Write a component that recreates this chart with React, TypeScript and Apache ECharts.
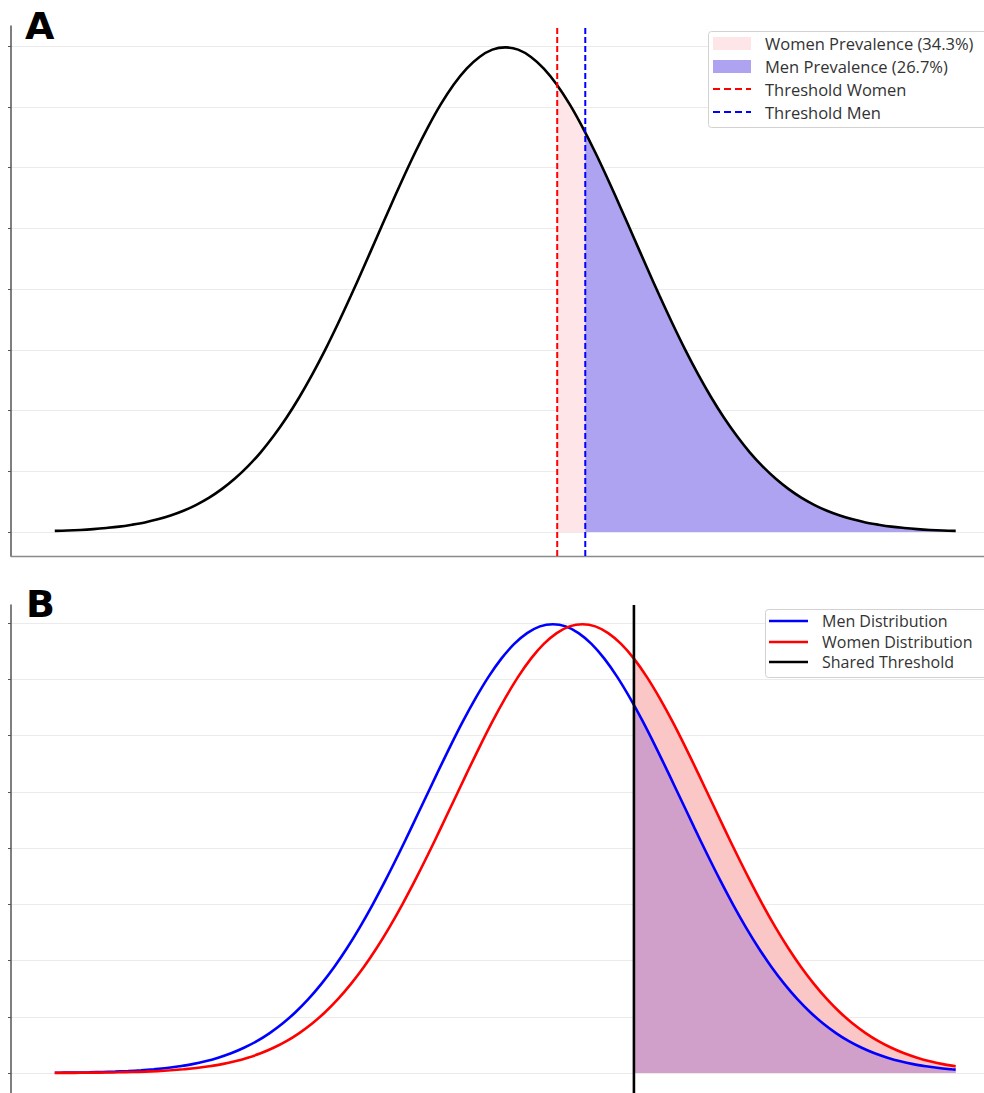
import React, { useEffect, useRef } from "react";
import * as echarts from "echarts";

// ---------- data ----------
// x positions (shared by panel A curve and the women curve of panel B)
const xValues = [
  -3.5, -3.4, -3.3, -3.2, -3.1, -3, -2.9, -2.8, -2.7, -2.6, -2.5, -2.4, -2.3, -2.2, -2.1, -2, -1.9,
  -1.8, -1.7, -1.6, -1.5, -1.4, -1.3, -1.2, -1.1, -1, -0.9, -0.8, -0.7, -0.6, -0.5, -0.4, -0.3,
  -0.2, -0.1, 0, 0.1, 0.2, 0.3, 0.4, 0.5, 0.6, 0.7, 0.8, 0.9, 1, 1.1, 1.2, 1.3, 1.4, 1.5, 1.6, 1.7,
  1.8, 1.9, 2, 2.1, 2.2, 2.3, 2.4, 2.5, 2.6, 2.7, 2.8, 2.9, 3, 3.1, 3.2, 3.3, 3.4, 3.5,
];

// Panel A: single distribution
const densityA = [
  0.0009, 0.0012, 0.0017, 0.0024, 0.0033, 0.0044, 0.006, 0.0079, 0.0104, 0.0136, 0.0175, 0.0224,
  0.0283, 0.0355, 0.044, 0.054, 0.0656, 0.079, 0.094, 0.1109, 0.1295, 0.1497, 0.1714, 0.1942,
  0.2179, 0.242, 0.2661, 0.2897, 0.3123, 0.3332, 0.3521, 0.3683, 0.3814, 0.391, 0.397, 0.3989,
  0.397, 0.391, 0.3814, 0.3683, 0.3521, 0.3332, 0.3123, 0.2897, 0.2661, 0.242, 0.2179, 0.1942,
  0.1714, 0.1497, 0.1295, 0.1109, 0.094, 0.079, 0.0656, 0.054, 0.044, 0.0355, 0.0283, 0.0224,
  0.0175, 0.0136, 0.0104, 0.0079, 0.006, 0.0044, 0.0033, 0.0024, 0.0017, 0.0012, 0.0009,
];
const thresholdWomenA = 0.404;
const thresholdMenA = 0.622;
const densityAtWomenA = 0.3677;
const densityAtMenA = 0.3289;

// Panel B: women distribution (on xValues)
const womenB = [
  0.0001, 0.0001, 0.0002, 0.0003, 0.0004, 0.0006, 0.0009, 0.0012, 0.0017, 0.0024, 0.0033, 0.0044,
  0.006, 0.0079, 0.0104, 0.0136, 0.0175, 0.0224, 0.0283, 0.0355, 0.044, 0.054, 0.0656, 0.079,
  0.094, 0.1109, 0.1295, 0.1497, 0.1714, 0.1942, 0.2179, 0.242, 0.2661, 0.2897, 0.3123, 0.3332,
  0.3521, 0.3683, 0.3814, 0.391, 0.397, 0.3989, 0.397, 0.391, 0.3814, 0.3683, 0.3521, 0.3332,
  0.3123, 0.2897, 0.2661, 0.242, 0.2179, 0.1942, 0.1714, 0.1497, 0.1295, 0.1109, 0.094, 0.079,
  0.0656, 0.054, 0.044, 0.0355, 0.0283, 0.0224, 0.0175, 0.0136, 0.0104, 0.0079, 0.006,
];

// Panel B: men distribution (its own x positions)
const menX = [
  -3.5, -3.43, -3.33, -3.23, -3.13, -3.03, -2.93, -2.83, -2.73, -2.63, -2.53, -2.43, -2.33, -2.23,
  -2.13, -2.03, -1.93, -1.83, -1.73, -1.63, -1.53, -1.43, -1.33, -1.23, -1.13, -1.03, -0.93, -0.83,
  -0.73, -0.63, -0.53, -0.43, -0.33, -0.23, -0.13, -0.03, 0.07, 0.17, 0.27, 0.37, 0.47, 0.57, 0.67,
  0.77, 0.87, 0.97, 1.07, 1.17, 1.27, 1.37, 1.47, 1.57, 1.67, 1.77, 1.87, 1.97, 2.07, 2.17, 2.27,
  2.37, 2.47, 2.57, 2.67, 2.77, 2.87, 2.97, 3.07, 3.17, 3.27, 3.37, 3.47, 3.5,
];
const menB = [
  0.0002, 0.0003, 0.0004, 0.0006, 0.0009, 0.0012, 0.0017, 0.0024, 0.0033, 0.0044, 0.006, 0.0079,
  0.0104, 0.0136, 0.0175, 0.0224, 0.0283, 0.0355, 0.044, 0.054, 0.0656, 0.079, 0.094, 0.1109,
  0.1295, 0.1497, 0.1714, 0.1942, 0.2179, 0.242, 0.2661, 0.2897, 0.3123, 0.3332, 0.3521, 0.3683,
  0.3814, 0.391, 0.397, 0.3989, 0.397, 0.391, 0.3814, 0.3683, 0.3521, 0.3332, 0.3123, 0.2897,
  0.2661, 0.242, 0.2179, 0.1942, 0.1714, 0.1497, 0.1295, 0.1109, 0.094, 0.079, 0.0656, 0.054,
  0.044, 0.0355, 0.0283, 0.0224, 0.0175, 0.0136, 0.0104, 0.0079, 0.006, 0.0044, 0.0033, 0.003,
];
const sharedThresholdB = 1.0;
const menAtThresholdB = 0.3271;

const legendA = ["Women Prevalence (34.3%)", "Men Prevalence (26.7%)", "Threshold Women", "Threshold Men"];
const legendB = ["Men Distribution", "Women Distribution", "Shared Threshold"];

// ---------- layout constants ----------
const X_MIN = -3.84;
const X_MAX = 3.72;
const YA_MIN = -0.01975;
const YA_MAX = 0.41646;
const YB_MIN = -0.01778;
const YB_MAX = 0.416;
const SMOOTH = 0.35;

const LEGEND_FONT = '"Open Sans", sans-serif';

function pairs(xs: number[], ys: number[]) {
  return xs.map((x, i) => [x, ys[i]]);
}

function App() {
  const ref = useRef<HTMLDivElement>(null);

  useEffect(() => {
    if (!ref.current) return;
    const chart = echarts.init(ref.current, undefined, { renderer: "svg" });

    const curveA = pairs(xValues, densityA);
    const pinkFillA = [
      [thresholdWomenA, densityAtWomenA],
      ...curveA.filter((p) => p[0] > thresholdWomenA && p[0] < thresholdMenA),
      [thresholdMenA, densityAtMenA],
    ];
    const blueFillA = [[thresholdMenA, densityAtMenA], ...curveA.filter((p) => p[0] > thresholdMenA)];

    const menCurve = pairs(menX, menB);
    const womenCurve = pairs(xValues, womenB);
    const menFill = [[sharedThresholdB, menAtThresholdB], ...menCurve.filter((p) => p[0] > sharedThresholdB)];
    const womenFill = womenCurve.filter((p) => p[0] >= sharedThresholdB);

    const hiddenX = (gridIndex: number) => ({
      gridIndex,
      type: "value",
      min: X_MIN,
      max: X_MAX,
      show: false,
    });

    const lineYAxis = (gridIndex: number) => ({
      gridIndex,
      type: "value",
      min: 0,
      max: 0.4,
      interval: 0.05,
      axisLine: { show: false, onZero: false },
      axisTick: { show: true, inside: false, length: 3, lineStyle: { color: "#555", width: 1 } },
      axisLabel: { show: false },
      splitLine: { show: true, lineStyle: { color: "#ebebeb", width: 1 } },
    });

    const dataYAxis = (gridIndex: number, min: number, max: number) => ({
      gridIndex,
      type: "value",
      min,
      max,
      axisLine: { show: true, onZero: false, lineStyle: { color: "#555", width: 1.5 } },
      axisTick: { show: false },
      axisLabel: { show: false },
      splitLine: { show: false },
    });

    const base = { type: "line", symbol: "none", silent: true };

    const legendText = (text: string, x: number, y: number, size: number) => ({
      type: "text",
      x,
      y,
      z: 21,
      style: {
        text,
        fill: "#333",
        font: `${size}px ${LEGEND_FONT}`,
        lineHeight: 18,
        align: "left",
        verticalAlign: "middle",
        textAlign: "left",
        textVerticalAlign: "middle",
      },
    });

    const option: any = {
      animation: false,
      backgroundColor: "#ffffff",
      grid: [
        { left: 11, right: 0, top: 26, height: 530 },
        { left: 11, right: 0, top: 46, height: 486 },
        { left: 11, right: 0, top: 605, height: 488 },
        { left: 11, right: 0, top: 623, height: 450 },
      ],
      xAxis: [
        {
          gridIndex: 0,
          type: "value",
          min: X_MIN,
          max: X_MAX,
          axisLine: { show: true, onZero: false, lineStyle: { color: "#8a8a8a", width: 1.3 } },
          axisTick: { show: false },
          axisLabel: { show: false },
          splitLine: { show: false },
        },
        hiddenX(1),
        hiddenX(2),
        hiddenX(3),
      ],
      yAxis: [dataYAxis(0, YA_MIN, YA_MAX), lineYAxis(1), dataYAxis(2, YB_MIN, YB_MAX), lineYAxis(3)],
      series: [
        {
          ...base,
          name: legendA[0],
          xAxisIndex: 0,
          yAxisIndex: 0,
          data: pinkFillA,
          smooth: SMOOTH,
          lineStyle: { opacity: 0 },
          areaStyle: { color: "#fde5e8", opacity: 1 },
          z: 2,
        },
        {
          ...base,
          name: legendA[1],
          xAxisIndex: 0,
          yAxisIndex: 0,
          data: blueFillA,
          smooth: SMOOTH,
          lineStyle: { opacity: 0 },
          areaStyle: { color: "#aea3f1", opacity: 1 },
          z: 2,
        },
        {
          ...base,
          name: "Distribution",
          xAxisIndex: 0,
          yAxisIndex: 0,
          data: curveA,
          smooth: SMOOTH,
          lineStyle: { color: "#000", width: 2.6 },
          z: 3,
        },
        {
          ...base,
          name: legendA[2],
          xAxisIndex: 0,
          yAxisIndex: 0,
          data: [
            [thresholdWomenA, YA_MIN],
            [thresholdWomenA, YA_MAX],
          ],
          lineStyle: { color: "#ff0000", width: 2, type: [6, 3] },
          z: 4,
        },
        {
          ...base,
          name: legendA[3],
          xAxisIndex: 0,
          yAxisIndex: 0,
          data: [
            [thresholdMenA, YA_MIN],
            [thresholdMenA, YA_MAX],
          ],
          lineStyle: { color: "#0000ff", width: 2, type: [6, 3] },
          z: 4,
        },
        {
          ...base,
          name: "Women fill",
          xAxisIndex: 2,
          yAxisIndex: 2,
          data: womenFill,
          smooth: SMOOTH,
          lineStyle: { opacity: 0 },
          areaStyle: { color: "#fbc6c6", opacity: 1 },
          z: 2,
        },
        {
          ...base,
          name: "Men fill",
          xAxisIndex: 2,
          yAxisIndex: 2,
          data: menFill,
          smooth: SMOOTH,
          lineStyle: { opacity: 0 },
          areaStyle: { color: "#d0a0ca", opacity: 1 },
          z: 2,
        },
        {
          ...base,
          name: legendB[0],
          xAxisIndex: 2,
          yAxisIndex: 2,
          data: menCurve,
          smooth: SMOOTH,
          lineStyle: { color: "#0000ff", width: 2.6 },
          z: 3,
        },
        {
          ...base,
          name: legendB[1],
          xAxisIndex: 2,
          yAxisIndex: 2,
          data: womenCurve,
          smooth: SMOOTH,
          lineStyle: { color: "#ff0000", width: 2.6 },
          z: 3,
        },
        {
          ...base,
          name: legendB[2],
          xAxisIndex: 2,
          yAxisIndex: 2,
          data: [
            [sharedThresholdB, YB_MIN],
            [sharedThresholdB, YB_MAX],
          ],
          lineStyle: { color: "#000", width: 2.6 },
          z: 4,
        },
      ],
      graphic: [
        {
          type: "text",
          x: 25,
          y: 26,
          z: 20,
          style: {
            text: "A",
            fill: "#000",
            font: 'bold 38px "DejaVu Sans", sans-serif',
            verticalAlign: "middle",
            textVerticalAlign: "middle",
          },
        },
        {
          type: "text",
          x: 26,
          y: 604,
          z: 20,
          style: {
            text: "B",
            fill: "#000",
            font: 'bold 38px "DejaVu Sans", sans-serif',
            verticalAlign: "middle",
            textVerticalAlign: "middle",
          },
        },
        // Legend A
        {
          type: "rect",
          z: 20,
          shape: { x: 708.5, y: 31.5, width: 290, height: 96, r: 3 },
          style: { fill: "#ffffff", stroke: "#d2d2d2", lineWidth: 1 },
        },
        {
          type: "rect",
          z: 21,
          shape: { x: 713, y: 37, width: 38, height: 13 },
          style: { fill: "#fde5e8" },
        },
        {
          type: "rect",
          z: 21,
          shape: { x: 713, y: 60, width: 38, height: 13 },
          style: { fill: "#aea3f1" },
        },
        {
          type: "line",
          z: 21,
          shape: { x1: 713, y1: 89, x2: 751, y2: 89 },
          style: { stroke: "#ff0000", lineWidth: 2, lineDash: [7, 4] },
        },
        {
          type: "line",
          z: 21,
          shape: { x1: 713, y1: 112, x2: 751, y2: 112 },
          style: { stroke: "#0000ff", lineWidth: 2, lineDash: [7, 4] },
        },
        legendText(legendA[0], 765, 43, 16.5),
        legendText(legendA[1], 765, 66, 16.5),
        legendText(legendA[2], 765, 89, 16.5),
        legendText(legendA[3], 765, 112, 16.5),
        // Legend B
        {
          type: "rect",
          z: 20,
          shape: { x: 765.5, y: 609.5, width: 230, height: 68, r: 3 },
          style: { fill: "#ffffff", stroke: "#d2d2d2", lineWidth: 1 },
        },
        {
          type: "line",
          z: 21,
          shape: { x1: 769, y1: 621, x2: 808, y2: 621 },
          style: { stroke: "#0000ff", lineWidth: 2.6 },
        },
        {
          type: "line",
          z: 21,
          shape: { x1: 769, y1: 642, x2: 808, y2: 642 },
          style: { stroke: "#ff0000", lineWidth: 2.6 },
        },
        {
          type: "line",
          z: 21,
          shape: { x1: 769, y1: 662, x2: 808, y2: 662 },
          style: { stroke: "#000000", lineWidth: 2.6 },
        },
        legendText(legendB[0], 822, 621, 16),
        legendText(legendB[1], 822, 642, 16),
        legendText(legendB[2], 822, 662, 16),
      ],
    };

    chart.setOption(option);
    return () => {
      chart.dispose();
    };
  }, []);

  return (
    <div
      ref={ref}
      style={{ position: "absolute", left: 0, top: 0, width: 984, height: 1093, background: "#fff" }}
    />
  );
}

export default App;
